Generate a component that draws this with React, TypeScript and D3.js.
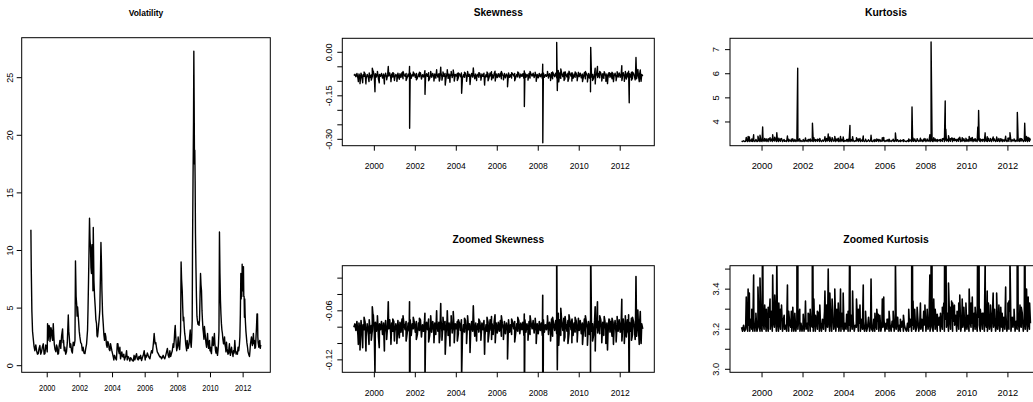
import { useEffect, useRef } from "react";
import * as d3 from "d3";

const W = 1033;
const H = 402;

// time axis (decimal years), shared by all panels
const xLim = [1998.436, 2013.664];
const yearTicks = [2000, 2002, 2004, 2006, 2008, 2010, 2012];

const volTicks = [0, 5, 10, 15, 20, 25];
const skewTicks = [-0.3, -0.25, -0.2, -0.15, -0.1, -0.05, 0];
const skewLabelTicks = [-0.3, -0.15, 0];
const zSkewTicks = [-0.12, -0.1, -0.08, -0.06, -0.04, -0.02];
const zSkewLabelTicks = [-0.12, -0.06];
const kurtTicks = [4, 5, 6, 7];
const zKurtTicks = [3.0, 3.1, 3.2, 3.3, 3.4, 3.5];
const zKurtLabelTicks = [3.0, 3.2, 3.4];

// [year, volatility]
const volatility: [number, number][] = [
  [1999.0, 11.8], [1999.02, 8.6], [1999.06, 4.7], [1999.1, 3.0], [1999.14, 2.4], [1999.19, 1.7],
  [1999.24, 1.3], [1999.3, 1.8], [1999.35, 1.3], [1999.4, 1.0], [1999.45, 1.05], [1999.5, 1.5],
  [1999.55, 1.75], [1999.6, 1.0], [1999.65, 1.2], [1999.7, 1.6], [1999.76, 1.9], [1999.81, 1.0],
  [1999.86, 1.05], [1999.91, 1.8], [1999.96, 1.6], [2000.0, 1.2], [2000.02, 3.65], [2000.05, 2.2],
  [2000.08, 2.6], [2000.11, 3.5], [2000.14, 3.35], [2000.17, 2.1], [2000.2, 2.5], [2000.23, 3.3],
  [2000.27, 3.05], [2000.3, 2.4], [2000.33, 2.2], [2000.37, 3.65], [2000.4, 2.7], [2000.43, 1.9],
  [2000.48, 1.4], [2000.53, 1.2], [2000.57, 1.8], [2000.61, 1.6], [2000.65, 1.0], [2000.69, 1.05],
  [2000.73, 1.7], [2000.78, 2.2], [2000.83, 1.5], [2000.88, 2.6], [2000.94, 3.2], [2000.97, 2.0],
  [2001.0, 2.2], [2001.04, 1.3], [2001.08, 1.6], [2001.13, 1.0], [2001.18, 1.2], [2001.23, 2.0],
  [2001.29, 4.4], [2001.32, 3.0], [2001.35, 2.5], [2001.39, 1.6], [2001.44, 1.9], [2001.49, 1.3],
  [2001.54, 1.1], [2001.59, 2.05], [2001.65, 1.75], [2001.7, 2.2], [2001.73, 9.1], [2001.77, 6.0],
  [2001.8, 5.4], [2001.83, 4.3], [2001.86, 5.1], [2001.92, 3.9], [2001.96, 3.0], [2002.0, 2.5],
  [2002.05, 2.0], [2002.1, 1.9], [2002.15, 1.3], [2002.2, 1.6], [2002.25, 1.1], [2002.31, 1.05],
  [2002.36, 1.5], [2002.41, 1.9], [2002.47, 3.1], [2002.5, 5.0], [2002.53, 7.4], [2002.56, 10.0],
  [2002.59, 12.8], [2002.62, 11.0], [2002.65, 10.3], [2002.68, 8.5], [2002.71, 8.0], [2002.74, 10.5],
  [2002.78, 9.1], [2002.8, 6.5], [2002.82, 12.0], [2002.86, 7.4], [2002.9, 6.0], [2002.94, 5.1],
  [2002.98, 4.0], [2003.02, 3.65], [2003.05, 2.6], [2003.08, 2.5], [2003.11, 2.9], [2003.14, 3.4],
  [2003.18, 4.0], [2003.22, 4.8], [2003.26, 8.0], [2003.29, 10.7], [2003.32, 9.0], [2003.35, 6.5],
  [2003.39, 4.5], [2003.43, 3.65], [2003.47, 2.7], [2003.51, 2.2], [2003.55, 2.8], [2003.59, 2.5],
  [2003.63, 1.8], [2003.67, 1.6], [2003.71, 2.1], [2003.76, 1.9], [2003.8, 1.4], [2003.84, 1.3],
  [2003.88, 1.9], [2003.92, 1.6], [2003.96, 1.3], [2004.0, 1.05], [2004.04, 0.8], [2004.08, 0.5],
  [2004.12, 0.9], [2004.16, 0.75], [2004.2, 0.6], [2004.24, 0.5], [2004.29, 1.9], [2004.33, 1.9],
  [2004.37, 1.3], [2004.41, 1.05], [2004.45, 1.6], [2004.49, 0.6], [2004.53, 0.9], [2004.57, 1.2],
  [2004.61, 0.8], [2004.65, 0.75], [2004.69, 1.0], [2004.73, 0.5], [2004.78, 0.7], [2004.82, 0.9],
  [2004.86, 1.3], [2004.9, 0.5], [2004.94, 0.8], [2004.98, 0.75], [2005.02, 0.6], [2005.06, 0.4],
  [2005.11, 0.7], [2005.16, 0.6], [2005.21, 0.45], [2005.27, 0.4], [2005.32, 0.9], [2005.37, 0.5],
  [2005.42, 0.8], [2005.47, 1.05], [2005.52, 0.6], [2005.57, 0.5], [2005.62, 0.8], [2005.67, 0.6],
  [2005.72, 0.9], [2005.78, 0.45], [2005.83, 0.7], [2005.88, 0.9], [2005.94, 1.3], [2006.0, 0.5],
  [2006.04, 0.9], [2006.08, 0.75], [2006.13, 1.1], [2006.18, 0.9], [2006.24, 0.7], [2006.29, 0.6],
  [2006.34, 1.0], [2006.39, 1.3], [2006.44, 1.1], [2006.49, 1.75], [2006.52, 2.2], [2006.55, 2.8],
  [2006.58, 2.3], [2006.61, 1.9], [2006.65, 2.0], [2006.69, 1.6], [2006.74, 1.2], [2006.8, 1.05],
  [2006.85, 0.9], [2006.9, 0.75], [2006.95, 0.8], [2007.0, 0.6], [2007.05, 0.7], [2007.1, 0.9],
  [2007.15, 0.7], [2007.2, 0.6], [2007.26, 0.9], [2007.31, 1.2], [2007.36, 1.5], [2007.41, 0.9],
  [2007.46, 0.7], [2007.51, 1.3], [2007.56, 0.8], [2007.61, 1.05], [2007.66, 1.3], [2007.71, 1.9],
  [2007.75, 1.6], [2007.78, 2.2], [2007.81, 3.0], [2007.84, 3.5], [2007.87, 2.6], [2007.9, 1.9],
  [2007.93, 1.3], [2007.96, 1.5], [2007.99, 1.8], [2008.02, 2.5], [2008.05, 1.9], [2008.08, 1.6],
  [2008.11, 1.4], [2008.14, 2.2], [2008.17, 3.0], [2008.2, 9.0], [2008.23, 7.5], [2008.27, 6.5],
  [2008.3, 5.0], [2008.33, 3.9], [2008.36, 4.2], [2008.39, 3.4], [2008.42, 2.8], [2008.45, 2.5],
  [2008.48, 1.9], [2008.51, 1.6], [2008.54, 1.3], [2008.57, 2.2], [2008.6, 1.9], [2008.63, 1.5],
  [2008.66, 1.7], [2008.69, 1.9], [2008.72, 2.5], [2008.76, 3.1], [2008.79, 2.0], [2008.82, 1.6],
  [2008.85, 2.4], [2008.88, 3.9], [2008.9, 10.3], [2008.93, 16.0], [2008.96, 21.0], [2008.98, 27.3],
  [2009.0, 23.0], [2009.02, 17.5], [2009.04, 18.7], [2009.06, 16.0], [2009.08, 11.5], [2009.11, 8.5],
  [2009.14, 6.0], [2009.17, 4.3], [2009.2, 3.9], [2009.23, 3.6], [2009.27, 3.8], [2009.3, 3.5],
  [2009.33, 4.0], [2009.36, 6.0], [2009.39, 8.0], [2009.42, 7.0], [2009.45, 6.5], [2009.48, 4.8],
  [2009.51, 3.9], [2009.54, 3.2], [2009.57, 2.8], [2009.6, 2.3], [2009.63, 3.4], [2009.66, 2.9],
  [2009.69, 2.5], [2009.72, 2.0], [2009.76, 1.6], [2009.79, 2.2], [2009.82, 2.8], [2009.85, 2.0],
  [2009.88, 1.5], [2009.91, 1.8], [2009.94, 2.2], [2009.97, 1.3], [2010.0, 1.6], [2010.03, 1.2],
  [2010.06, 1.05], [2010.09, 1.8], [2010.12, 2.5], [2010.15, 2.0], [2010.18, 1.75], [2010.21, 2.3],
  [2010.24, 2.8], [2010.27, 1.9], [2010.31, 1.3], [2010.34, 1.1], [2010.37, 1.6], [2010.4, 1.2],
  [2010.43, 0.9], [2010.46, 1.3], [2010.49, 1.9], [2010.52, 3.0], [2010.55, 11.6], [2010.58, 8.0],
  [2010.61, 5.7], [2010.64, 4.5], [2010.67, 3.65], [2010.7, 3.1], [2010.73, 2.8], [2010.76, 2.3],
  [2010.8, 1.9], [2010.83, 2.1], [2010.86, 2.5], [2010.89, 1.8], [2010.92, 1.6], [2010.95, 1.2],
  [2010.98, 2.05], [2011.01, 1.5], [2011.04, 1.3], [2011.07, 1.0], [2011.1, 1.05], [2011.13, 1.5],
  [2011.16, 1.9], [2011.19, 1.2], [2011.22, 0.9], [2011.25, 1.3], [2011.29, 1.6], [2011.32, 1.2],
  [2011.35, 1.05], [2011.38, 0.8], [2011.41, 1.3], [2011.45, 1.1], [2011.49, 2.2], [2011.53, 1.3],
  [2011.57, 1.0], [2011.61, 1.2], [2011.65, 1.0], [2011.69, 1.6], [2011.73, 1.3], [2011.77, 1.8],
  [2011.8, 2.5], [2011.83, 4.5], [2011.86, 8.0], [2011.88, 5.8], [2011.9, 6.8], [2011.92, 6.0],
  [2011.94, 8.8], [2011.96, 6.5], [2011.98, 7.2], [2012.0, 6.5], [2012.02, 8.6], [2012.04, 6.0],
  [2012.06, 6.0], [2012.08, 4.2], [2012.1, 5.8], [2012.12, 4.5], [2012.14, 3.8], [2012.17, 3.0],
  [2012.2, 2.5], [2012.23, 2.0], [2012.27, 1.6], [2012.3, 1.2], [2012.33, 1.05], [2012.36, 0.9],
  [2012.39, 0.8], [2012.42, 1.3], [2012.45, 1.9], [2012.48, 2.2], [2012.51, 2.5], [2012.54, 2.0],
  [2012.57, 1.75], [2012.6, 2.2], [2012.63, 2.8], [2012.66, 1.9], [2012.69, 2.2], [2012.72, 1.5],
  [2012.76, 1.6], [2012.79, 2.5], [2012.82, 3.4], [2012.85, 4.5], [2012.88, 4.5], [2012.9, 2.5],
  [2012.92, 2.0], [2012.96, 1.6], [2012.99, 2.0], [2013.02, 2.2], [2013.05, 1.5], [2013.08, 1.8],
];

// regular series start / step (years) for the dense skewness & kurtosis band
const baseStart = 1999.0;
const baseStep = 0.05;

// skewness band, in thousandths, one row per year
const skewBase = [
  -80, -76, -84, -73, -90, -75, -86, -72, -88, -77, -83, -74, -91, -76, -85, -71, -87, -78, -84, -70,
  -88, -74, -85, -70, -92, -76, -83, -73, -89, -75, -86, -72, -90, -77, -82, -71, -88, -75, -85, -73,
  -87, -76, -84, -72, -89, -74, -86, -70, -91, -77, -83, -73, -88, -75, -85, -71, -90, -76, -82, -74,
  -86, -73, -89, -75, -84, -71, -92, -77, -85, -72, -88, -74, -83, -70, -90, -76, -86, -73, -84, -75,
  -89, -72, -85, -74, -91, -70, -86, -76, -83, -73, -88, -71, -90, -75, -84, -72, -87, -74, -85, -76,
  -82, -73, -88, -75, -84, -71, -90, -77, -86, -72, -89, -74, -83, -76, -87, -73, -85, -71, -91, -75,
  -84, -76, -86, -73, -88, -75, -83, -72, -90, -77, -85, -74, -87, -71, -84, -76, -89, -73, -82, -75,
  -87, -74, -85, -72, -91, -76, -83, -73, -88, -75, -84, -71, -86, -77, -89, -74, -82, -73, -87, -76,
  -85, -72, -88, -75, -83, -74, -90, -71, -86, -76, -84, -73, -89, -75, -82, -72, -87, -74, -85, -76,
  -88, -73, -84, -75, -90, -71, -86, -77, -83, -72, -89, -74, -85, -70, -91, -76, -84, -72, -88, -73,
  -86, -71, -90, -74, -84, -69, -92, -76, -85, -72, -88, -73, -83, -70, -90, -75, -86, -72, -89, -74,
  -84, -72, -88, -75, -86, -70, -91, -74, -83, -73, -89, -71, -85, -76, -90, -72, -84, -74, -87, -73,
  -88, -71, -85, -74, -90, -72, -84, -75, -89, -70, -86, -73, -91, -74, -83, -72, -88, -76, -85, -71,
  -86, -73, -90, -70, -84, -75, -92, -71, -87, -74, -85, -69, -89, -73, -84, -70, -91, -72, -86, -74,
  -88, -76, -82,
];

// single-day skewness excursions [year, value]
const skewSpikes: [number, number][] = [
  [1999.22, -0.101], [1999.3, -0.108], [1999.43, -0.105], [1999.5, -0.068], [1999.59, -0.109],
  [1999.74, -0.101], [1999.85, -0.096], [1999.9, -0.055], [1999.95, -0.065], [2000.03, -0.136],
  [2000.15, -0.066], [2000.24, -0.105], [2000.49, -0.109], [2000.6, -0.095], [2000.68, -0.049],
  [2000.81, -0.101], [2000.9, -0.07], [2000.98, -0.097], [2001.1, -0.1], [2001.22, -0.093],
  [2001.4, -0.066], [2001.55, -0.097], [2001.718, -0.049], [2001.722, -0.262], [2001.9, -0.068],
  [2002.05, -0.095], [2002.2, -0.069], [2002.468, -0.063], [2002.472, -0.145], [2002.65, -0.098],
  [2002.75, -0.066], [2002.91, -0.099], [2003.04, -0.06], [2003.17, -0.099], [2003.24, -0.051],
  [2003.3, -0.096], [2003.35, -0.068], [2003.46, -0.113], [2003.56, -0.06], [2003.69, -0.103],
  [2003.75, -0.066], [2003.85, -0.061], [2003.9, -0.099], [2004.05, -0.097], [2004.1, -0.071],
  [2004.26, -0.141], [2004.4, -0.069], [2004.5, -0.1], [2004.55, -0.066], [2004.67, -0.111],
  [2004.83, -0.054], [2004.99, -0.097], [2005.1, -0.07], [2005.2, -0.096], [2005.38, -0.113],
  [2005.5, -0.068], [2005.55, -0.098], [2005.718, -0.067], [2005.722, -0.095], [2005.89, -0.065],
  [2005.9, -0.099], [2006.2, -0.066], [2006.3, -0.095], [2006.5, -0.119], [2006.7, -0.07],
  [2006.85, -0.098], [2007.0, -0.068], [2007.318, -0.064], [2007.322, -0.187], [2007.5, -0.096],
  [2007.6, -0.066], [2007.85, -0.069], [2007.9, -0.1], [2008.218, -0.041], [2008.222, -0.312],
  [2008.45, -0.066], [2008.6, -0.097], [2008.7, -0.068], [2008.9, 0.034], [2008.93, -0.132],
  [2008.98, -0.063], [2009.0, -0.102], [2009.1, -0.057], [2009.26, -0.097], [2009.31, -0.067],
  [2009.45, -0.1], [2009.5, -0.065], [2009.638, -0.071], [2009.642, -0.099], [2009.8, -0.068],
  [2009.9, -0.098], [2009.96, -0.069], [2010.16, -0.101], [2010.3, -0.066], [2010.4, -0.102],
  [2010.55, -0.136], [2010.56, 0.017], [2010.65, -0.097], [2010.778, -0.055], [2010.782, -0.109],
  [2010.89, -0.049], [2011.0, -0.066], [2011.1, -0.099], [2011.22, -0.067], [2011.3, -0.1],
  [2011.38, -0.108], [2011.48, -0.071], [2011.6, -0.069], [2011.67, -0.101], [2011.8, -0.098],
  [2011.85, -0.067], [2012.078, -0.046], [2012.082, -0.097], [2012.2, -0.1], [2012.25, -0.066],
  [2012.41, -0.065], [2012.44, -0.174], [2012.55, -0.096], [2012.6, -0.068], [2012.73, -0.095],
  [2012.77, -0.018], [2012.86, -0.059], [2012.93, -0.101], [2012.98, -0.061], [2013.02, -0.1],
];

// kurtosis band, one row per year
const kurtBase = [
  3.21, 3.19, 3.22, 3.19, 3.2, 3.24, 3.19, 3.22, 3.19, 3.25, 3.2, 3.19, 3.23, 3.19, 3.26, 3.19, 3.21, 3.24, 3.19, 3.22,
  3.19, 3.24, 3.2, 3.27, 3.19, 3.23, 3.19, 3.26, 3.2, 3.29, 3.19, 3.24, 3.21, 3.28, 3.19, 3.25, 3.19, 3.23, 3.2, 3.26,
  3.19, 3.25, 3.2, 3.22, 3.19, 3.28, 3.19, 3.23, 3.21, 3.19, 3.26, 3.19, 3.22, 3.19, 3.24, 3.2, 3.27, 3.19, 3.23, 3.19,
  3.22, 3.19, 3.25, 3.2, 3.23, 3.19, 3.27, 3.19, 3.22, 3.21, 3.19, 3.26, 3.19, 3.24, 3.2, 3.28, 3.19, 3.23, 3.19, 3.25,
  3.2, 3.29, 3.19, 3.24, 3.21, 3.27, 3.19, 3.25, 3.19, 3.3, 3.2, 3.23, 3.19, 3.26, 3.21, 3.19, 3.24, 3.19, 3.28, 3.2,
  3.19, 3.23, 3.2, 3.25, 3.19, 3.22, 3.19, 3.27, 3.2, 3.24, 3.19, 3.22, 3.21, 3.26, 3.19, 3.23, 3.19, 3.25, 3.2, 3.22,
  3.19, 3.24, 3.19, 3.21, 3.26, 3.19, 3.23, 3.2, 3.19, 3.25, 3.19, 3.22, 3.2, 3.24, 3.19, 3.27, 3.19, 3.22, 3.21, 3.25,
  3.19, 3.23, 3.2, 3.25, 3.19, 3.22, 3.19, 3.24, 3.21, 3.19, 3.23, 3.2, 3.26, 3.19, 3.22, 3.19, 3.21, 3.24, 3.19, 3.22,
  3.2, 3.19, 3.23, 3.19, 3.21, 3.25, 3.19, 3.22, 3.2, 3.24, 3.19, 3.21, 3.26, 3.19, 3.23, 3.2, 3.25, 3.19, 3.22, 3.24,
  3.19, 3.26, 3.2, 3.23, 3.19, 3.25, 3.21, 3.19, 3.27, 3.2, 3.24, 3.19, 3.22, 3.26, 3.19, 3.23, 3.2, 3.28, 3.19, 3.25,
  3.21, 3.28, 3.19, 3.26, 3.2, 3.29, 3.19, 3.24, 3.22, 3.27, 3.19, 3.25, 3.2, 3.28, 3.19, 3.23, 3.21, 3.26, 3.19, 3.24,
  3.2, 3.27, 3.19, 3.25, 3.21, 3.23, 3.19, 3.28, 3.2, 3.24, 3.19, 3.26, 3.22, 3.19, 3.25, 3.2, 3.28, 3.19, 3.23, 3.21,
  3.19, 3.27, 3.2, 3.24, 3.19, 3.29, 3.21, 3.25, 3.19, 3.23, 3.2, 3.27, 3.19, 3.24, 3.21, 3.19, 3.26, 3.2, 3.28, 3.19,
  3.23, 3.2, 3.29, 3.19, 3.25, 3.21, 3.27, 3.19, 3.24, 3.2, 3.26, 3.19, 3.23, 3.21, 3.28, 3.19, 3.25, 3.2, 3.27, 3.19,
  3.24, 3.2, 3.23,
];

// single-day kurtosis excursions [year, value]
const kurtSpikes: [number, number][] = [
  [1999.23, 3.36], [1999.32, 3.4], [1999.38, 3.38], [1999.5, 3.3], [1999.59, 3.47], [1999.7, 3.28],
  [1999.8, 3.41], [1999.9, 3.455], [2000.03, 3.79], [2000.13, 3.32], [2000.21, 3.3], [2000.3, 3.31],
  [2000.39, 3.35], [2000.52, 3.47], [2000.62, 3.37], [2000.72, 3.55], [2000.82, 3.33], [2000.9, 3.3],
  [2000.95, 3.32], [2001.08, 3.27], [2001.24, 3.42], [2001.3, 3.29], [2001.43, 3.29], [2001.5, 3.31],
  [2001.6, 3.28], [2001.74, 6.23], [2001.84, 3.3], [2002.01, 3.275], [2002.12, 3.34], [2002.25, 3.28],
  [2002.35, 3.3], [2002.46, 3.95], [2002.53, 3.35], [2002.61, 3.27], [2002.7, 3.29], [2002.82, 3.32],
  [2003.07, 3.39], [2003.15, 3.32], [2003.23, 3.5], [2003.31, 3.38], [2003.42, 3.35], [2003.55, 3.4],
  [2003.65, 3.3], [2003.72, 3.33], [2003.83, 3.4], [2003.96, 3.38], [2004.13, 3.275], [2004.2, 3.29],
  [2004.29, 3.86], [2004.42, 3.39], [2004.61, 3.35], [2004.7, 3.3], [2004.78, 3.32], [2004.94, 3.42],
  [2005.05, 3.29], [2005.32, 3.45], [2005.51, 3.28], [2005.6, 3.3], [2005.67, 3.275], [2005.87, 3.35],
  [2005.94, 3.36], [2006.1, 3.25], [2006.2, 3.29], [2006.4, 3.29], [2006.51, 3.54], [2006.62, 3.26],
  [2006.75, 3.25], [2006.9, 3.27], [2007.16, 3.3], [2007.32, 4.62], [2007.37, 3.34], [2007.45, 3.3],
  [2007.57, 3.31], [2007.73, 3.33], [2007.89, 3.29], [2007.95, 3.32], [2008.06, 3.3], [2008.19, 3.47],
  [2008.25, 7.32], [2008.38, 3.35], [2008.45, 3.3], [2008.55, 3.275], [2008.71, 3.28], [2008.8, 3.31],
  [2008.87, 3.33], [2008.94, 4.87], [2008.97, 3.7], [2009.1, 3.43], [2009.2, 3.31], [2009.25, 3.34],
  [2009.3, 3.33], [2009.39, 3.32], [2009.52, 3.29], [2009.6, 3.33], [2009.65, 3.37], [2009.77, 3.35],
  [2009.85, 3.31], [2009.95, 3.33], [2010.11, 3.4], [2010.2, 3.33], [2010.26, 3.36], [2010.4, 3.31],
  [2010.53, 3.79], [2010.57, 4.48], [2010.65, 3.3], [2010.75, 3.28], [2010.89, 3.55], [2010.99, 3.39],
  [2011.05, 3.33], [2011.15, 3.32], [2011.28, 3.38], [2011.35, 3.3], [2011.45, 3.38], [2011.56, 3.32],
  [2011.65, 3.31], [2011.72, 3.28], [2011.89, 3.41], [2012.0, 3.33], [2012.05, 3.34], [2012.1, 3.56],
  [2012.21, 3.26], [2012.3, 3.3], [2012.46, 4.4], [2012.59, 3.32], [2012.65, 3.31], [2012.7, 3.28],
  [2012.82, 3.95], [2012.91, 3.4], [2012.99, 3.36], [2013.06, 3.33],
];

function withSpikes(base: number[], unit: number, spikes: [number, number][]) {
  const pts: [number, number][] = base.map((v, i) => [baseStart + i * baseStep, v * unit]);
  return pts.concat(spikes).sort((a, b) => a[0] - b[0]);
}

const skewness = withSpikes(skewBase, 0.001, skewSpikes);
const kurtosis = withSpikes(kurtBase, 1, kurtSpikes);

const fix = (n: number) => (d: number) => d.toFixed(n);

const panels = [
  {
    id: "vol", title: "Volatility", data: volatility,
    x0: 21.7, x1: 270.3, y0: 37.7, y1: 372.3, yDomain: [-0.573, 28.47],
    ticks: volTicks, labels: volTicks, fmt: fix(0),
    titleY: 16.4, titleSize: 9.4, titleSx: 0.9, tickSize: 9, tickSx: 0.82,
    xLabDy: 19, yLabDx: 11.7, lw: 1.4,
  },
  {
    id: "skew", title: "Skewness", data: skewness,
    x0: 342.3, x1: 654.3, y0: 38.3, y1: 145.7, yDomain: [-0.322, 0.0483],
    ticks: skewTicks, labels: skewLabelTicks, fmt: fix(2),
    titleY: 16.4, titleSize: 10.2, titleSx: 1, tickSize: 9.2, tickSx: 0.93,
    xLabDy: 23.3, yLabDx: 14, lw: 1.4,
  },
  {
    id: "zskew", title: "Zoomed Skewness", data: skewness,
    x0: 342.3, x1: 654.3, y0: 265.7, y1: 372.3, yDomain: [-0.1352, -0.0048],
    ticks: zSkewTicks, labels: zSkewLabelTicks, fmt: fix(2),
    titleY: 242.7, titleSize: 10.2, titleSx: 1, tickSize: 9.2, tickSx: 0.93,
    xLabDy: 23.6, yLabDx: 14, lw: 1.6,
  },
  {
    id: "kurt", title: "Kurtosis", data: kurtosis,
    x0: 730, x1: 1042, y0: 38.3, y1: 145.7, yDomain: [3.016, 7.47],
    ticks: kurtTicks, labels: kurtTicks, fmt: fix(0),
    titleY: 16.4, titleSize: 10.4, titleSx: 1, tickSize: 9.3, tickSx: 1,
    xLabDy: 23.1, yLabDx: 14, lw: 1.4,
  },
  {
    id: "zkurt", title: "Zoomed Kurtosis", data: kurtosis,
    x0: 730, x1: 1042, y0: 265.7, y1: 372.3, yDomain: [2.985, 3.517],
    ticks: zKurtTicks, labels: zKurtLabelTicks, fmt: fix(1),
    titleY: 242.7, titleSize: 10.4, titleSx: 1, tickSize: 9.3, tickSx: 1,
    xLabDy: 23.6, yLabDx: 14, lw: 1.6,
  },
];

export default function App() {
  const ref = useRef<SVGSVGElement>(null);

  useEffect(() => {
    const svg = d3.select(ref.current);
    svg.selectAll("*").remove();
    const defs = svg.append("defs");

    panels.forEach((p) => {
      const x = d3.scaleLinear().domain(xLim).range([p.x0, p.x1]);
      const y = d3.scaleLinear().domain(p.yDomain).range([p.y1, p.y0]);
      const g = svg.append("g");

      defs.append("clipPath").attr("id", "clip-" + p.id)
        .append("rect")
        .attr("x", p.x0).attr("y", p.y0)
        .attr("width", p.x1 - p.x0).attr("height", p.y1 - p.y0);

      const line = d3.line<[number, number]>()
        .x((d) => x(d[0]))
        .y((d) => y(d[1]));

      g.append("path")
        .attr("d", line(p.data))
        .attr("clip-path", `url(#clip-${p.id})`)
        .attr("fill", "none")
        .attr("stroke", "#000")
        .attr("stroke-width", p.lw)
        .attr("stroke-linejoin", "round");

      g.append("rect")
        .attr("x", p.x0).attr("y", p.y0)
        .attr("width", p.x1 - p.x0).attr("height", p.y1 - p.y0)
        .attr("fill", "none").attr("stroke", "#000").attr("stroke-width", 1);

      // bottom axis
      g.selectAll(".xt").data(yearTicks).join("line")
        .attr("x1", (d) => x(d)).attr("x2", (d) => x(d))
        .attr("y1", p.y1).attr("y2", p.y1 + 5)
        .attr("stroke", "#000");
      g.selectAll(".xl").data(yearTicks).join("text")
        .attr("transform", (d) => `translate(${x(d)},${p.y1 + p.xLabDy}) scale(${p.tickSx},1)`)
        .attr("text-anchor", "middle")
        .attr("font-size", p.tickSize)
        .text((d) => String(d));

      // left axis
      g.selectAll(".yt").data(p.ticks).join("line")
        .attr("x1", p.x0).attr("x2", p.x0 - 5)
        .attr("y1", (d) => y(d)).attr("y2", (d) => y(d))
        .attr("stroke", "#000");
      g.selectAll(".yl").data(p.labels).join("text")
        .attr("transform", (d) => `translate(${p.x0 - p.yLabDx},${y(d)}) rotate(-90)`)
        .attr("text-anchor", "middle")
        .attr("dy", "0.35em")
        .attr("font-size", p.tickSize)
        .text((d) => p.fmt(d));

      g.append("text")
        .attr("transform", `translate(${(p.x0 + p.x1) / 2},${p.titleY}) scale(${p.titleSx},1)`)
        .attr("text-anchor", "middle")
        .attr("font-weight", "bold")
        .attr("font-size", p.titleSize)
        .text(p.title);
    });
  }, []);

  return (
    <svg
      ref={ref}
      width={W}
      height={H}
      style={{ position: "absolute", left: 0, top: 0, background: "#fff" }}
      fontFamily="'Liberation Sans', Arial, Helvetica, sans-serif"
    />
  );
}
